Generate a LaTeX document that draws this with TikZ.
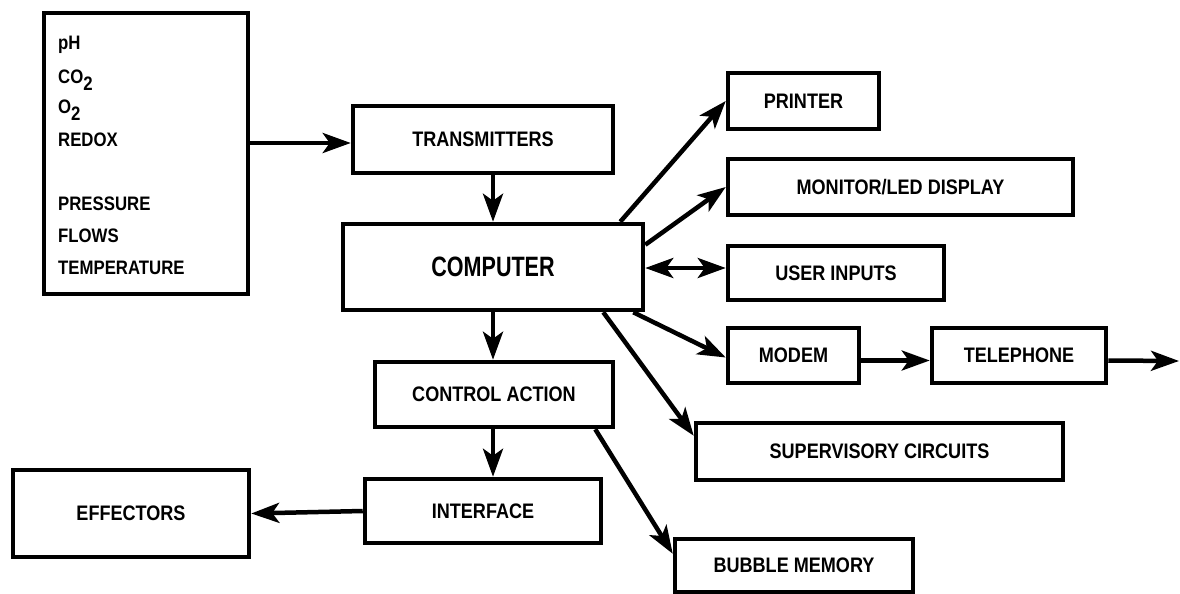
\documentclass[tikz,border=0pt]{standalone}
\usepackage{fontspec}
\setmainfont[FakeStretch=0.86]{Liberation Sans}
\newfontfamily\bigfont[FakeStretch=0.77]{Liberation Sans}
\usetikzlibrary{arrows.meta,calc}
\newcommand\subtwo{\raisebox{-7pt}{2}}
\begin{document}
\begin{tikzpicture}[x=1pt,y=-1pt,
  box/.style={draw, line width=4.5pt, inner sep=0pt, align=center,
    font=\bfseries\fontsize{21}{24}\selectfont},
  sens/.style={anchor=base west, inner sep=0pt, font=\bfseries\fontsize{19.5}{22}\selectfont},
  tip/.tip={Stealth[length=28pt,width=20pt,inset=7pt]},
  conn/.style={line width=4.5pt, -tip},
  both/.style={line width=4.5pt, tip-tip}]
\useasboundingbox (0,0) rectangle (1180,594);

% measured quantities box
\node[box, minimum width=204pt, minimum height=281pt] (sensor) at (146,153.5) {};
\node[sens] (lph)   at (58,50)  {pH};
\node[sens] (lco)   at (58,83)  {CO\subtwo};
\node[sens] (lo)    at (58,113) {O\subtwo};
\node[sens] (lred)  at (58,146) {REDOX};
\node[sens] (lpres) at (58,210) {PRESSURE};
\node[sens] (lflow) at (58,242) {FLOWS};
\node[sens] (ltemp) at (58,274) {TEMPERATURE};

% main blocks
\node[box, minimum width=260pt, minimum height=67pt] (trans) at (483,139.5) {TRANSMITTERS};
\node[box, minimum width=300pt, minimum height=86pt, font=\bigfont\bfseries\fontsize{28}{31}\selectfont] (comp) at (493,267) {COMPUTER};
\node[box, minimum width=151pt, minimum height=56pt] (printer) at (803.5,101) {PRINTER};
\node[box, minimum width=345pt, minimum height=56pt] (monitor) at (900.5,187) {MONITOR/LED DISPLAY};
\node[box, minimum width=216pt, minimum height=54pt] (user) at (836,273) {USER INPUTS};
\node[box, minimum width=131pt, minimum height=55pt] (modem) at (793.5,355.5) {MODEM};
\node[box, minimum width=174pt, minimum height=55pt] (tel) at (1019,355.5) {TELEPHONE};
\node[box, minimum width=367pt, minimum height=57pt] (sup) at (879.5,451.5) {SUPERVISORY CIRCUITS};
\node[box, minimum width=238pt, minimum height=65pt] (ctrl) at (494,394.5) {CONTROL ACTION};
\node[box, minimum width=236pt, minimum height=64pt] (iface) at (483,511) {INTERFACE};
\node[box, minimum width=236pt, minimum height=87pt] (eff) at (131,513.5) {EFFECTORS};
\node[box, minimum width=238pt, minimum height=53pt] (bubble) at (794,565.5) {BUBBLE MEMORY};

\coordinate (out) at (1179,361);

% connectors
\draw[conn] ($(sensor.east |- trans.west)+(0,3.5)$) -- ($(trans.west)+(0,3.5)$);
\draw[conn] (comp.north |- trans.south) -- (comp.north);
\draw[conn] (comp.south) -- (comp.south |- ctrl.north);
\draw[conn] (ctrl.south -| comp.south) -- (iface.north -| comp.south);
\draw[conn] (iface.west) -- (eff.east);
\draw[conn] ($(comp.north east)+(-25,0)$) -- (printer.west);
\draw[conn] ($(comp.north east)+(0,23)$) -- (monitor.west);
\draw[both] ($(comp.east)+(0,1)$) -- ($(comp.east -| user.west)+(0,1)$);
\draw[conn] ($(comp.south east)+(-12,0)$) -- ($(modem.west)+(0,2)$);
\draw[conn] ($(comp.south east)+(-42,0)$) -- ($(sup.north west)+(0,15)$);
\draw[conn] ($(ctrl.south east)+(-20,0)$) -- ($(bubble.north west)+(0,17)$);
\draw[conn] ($(modem.east)+(0,5)$) -- ($(tel.west)+(0,5)$);
\draw[conn] ($(tel.east)+(0,5)$) -- (out);
\end{tikzpicture}
\end{document}
